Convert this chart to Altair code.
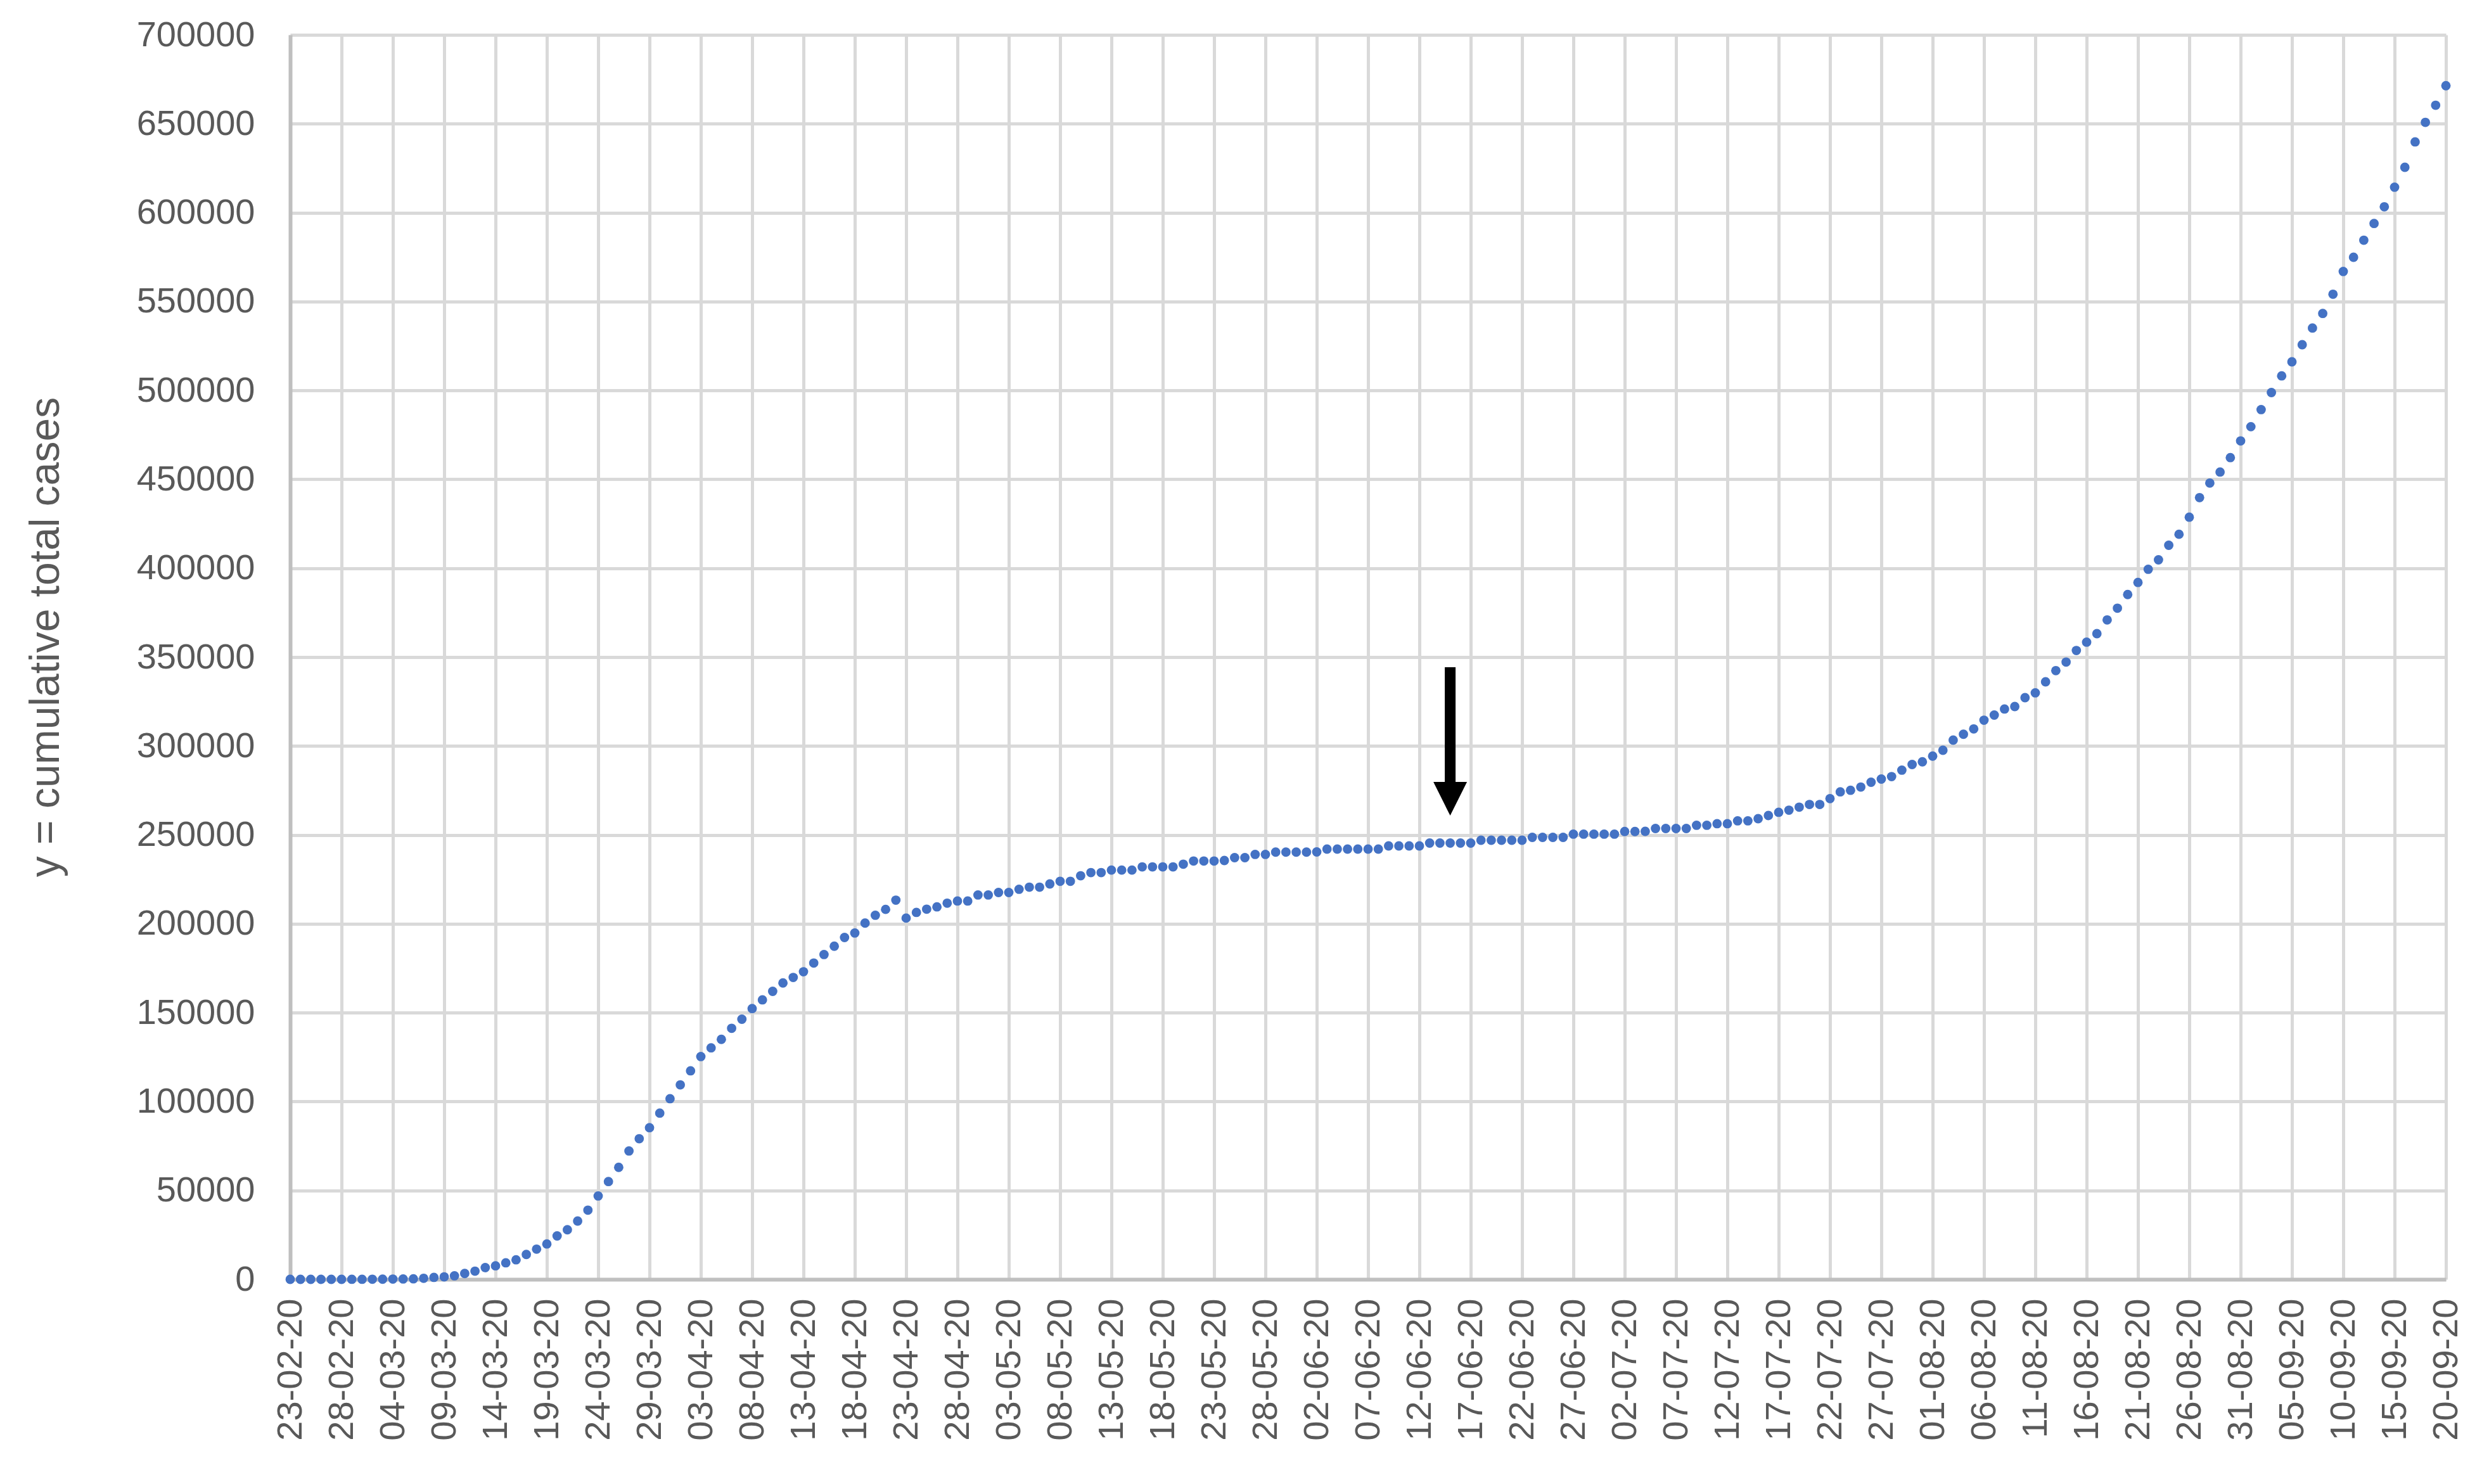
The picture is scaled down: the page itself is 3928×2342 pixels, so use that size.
import altair as alt
import pandas as pd

# ---- data ----
dates = pd.date_range("2020-02-23", "2020-09-20", freq="D").strftime("%d-%m-%y").tolist()
tick_labels = dates[::5]
y_ticks = list(range(0, 700001, 50000))

cases = [
    0, 0, 0, 0, 0, 10, 20, 30, 50, 80,                                   # 0-9
    150, 200, 300, 600, 1100, 1400, 2000, 3300, 4600, 6600,              # 10-19
    7600, 9300, 11000, 14000, 17000, 19900, 24400, 27900, 32800, 38900,  # 20-29
    46900, 55000, 63000, 72200, 79100, 85300, 93500, 101600, 109400, 117300,  # 30-39
    125300, 130200, 135000, 141200, 146300, 152300, 157200, 162000, 166700, 169800,  # 40-49
    173000, 177900, 182700, 187400, 192300, 194800, 200400, 204800, 208100, 213300,  # 50-59
    203200, 206400, 208200, 209500, 211600, 212800, 212800, 216200, 216200, 217600,  # 60-69
    217600, 219400, 220600, 220600, 222400, 223900, 223900, 227000, 228800, 228800,  # 70-79
    230200, 230200, 230200, 232000, 232000, 232000, 232000, 233500, 235300, 235300,  # 80-89
    235300, 235600, 237200, 237200, 239000, 239000, 240300, 240300, 240300, 240300,  # 90-99
    240400, 242000, 242000, 242000, 242000, 242000, 242000, 243800, 243800, 243800,  # 100-109
    243800, 245400, 245400, 245400, 245400, 245400, 247000, 247000, 247000, 247000,  # 110-119
    247000, 248600, 248600, 248600, 248600, 250400, 250400, 250400, 250400, 250400,  # 120-129
    251900, 251900, 252000, 253600, 253600, 253600, 253600, 255400, 255400, 256300,  # 130-139
    256300, 257900, 257900, 259100, 260900, 262700, 263900, 265600, 267100, 267100,  # 140-149
    270400, 274200, 275100, 276900, 279600, 281400, 282800, 286400, 289600, 291100,  # 150-159
    294300, 297600, 303300, 306600, 309600, 314500, 317400, 320800, 322200, 327200,  # 160-169
    329900, 336100, 342400, 347200, 353700, 358400, 363200, 370900, 377500, 385200,  # 170-179
    392000, 399400, 404700, 412900, 419100, 428700, 439700, 447900, 454100, 462200,  # 180-189
    471600, 479600, 489200, 498800, 508200, 516100, 525700, 535100, 543300, 554100,  # 190-199
    566900, 574900, 584500, 593900, 603300, 614300, 625500, 639800, 650800, 660400,  # 200-209
    671400,                                                              # 210
]
assert len(cases) == len(dates) == 211

# arrow annotation (data coordinates)
arrow_date = "15-06-20"
arrow_top = 344300
arrow_shaft_end = 276000
arrow_head_center = 270300

df = pd.DataFrame({"date": dates, "cases": cases})
arrow_df = pd.DataFrame({
    "date": [arrow_date],
    "top": [arrow_top],
    "base": [arrow_shaft_end],
    "head": [arrow_head_center],
})

# ---- styling ----
FONT = "Liberation Sans"
TEXT_COLOR = "#595959"
GRID = "#d9d9d9"
DOMAIN = "#bfbfbf"
BLUE = "#4472C4"
Y_TITLE = "y = cumulative total cases"

x_axis = alt.Axis(
    values=tick_labels, labelAngle=-90, labelFontSize=56, labelFont=FONT,
    labelColor=TEXT_COLOR, labelPadding=30, ticks=False, grid=True,
    gridColor=GRID, gridWidth=5, domainColor=DOMAIN, domainWidth=6,
    labelOverlap=False, labelBound=False, labelFlush=False, labelLimit=1000,
)
y_axis = alt.Axis(
    values=y_ticks, format="d", labelFontSize=56, labelFont=FONT,
    labelColor=TEXT_COLOR, labelPadding=56, ticks=False, grid=True,
    gridColor=GRID, gridWidth=5, domainColor=DOMAIN, domainWidth=6,
    labelOverlap=False, labelFlush=False, labelLimit=1000,
    titleFont=FONT, titleFontSize=66, titleFontWeight="normal",
    titleColor=TEXT_COLOR, titleX=-352, titleY=950, titleAngle=-90,
    titleAlign="center", titleBaseline="bottom", titleLimit=2000,
)

x_scale = alt.Scale(type="point", domain=dates, padding=0)
y_scale = alt.Scale(domain=[0, 700000], nice=False, zero=True)


def xenc():
    return alt.X("date:O", scale=x_scale, axis=x_axis, title=None, sort=dates)


def yenc(field):
    return alt.Y(field, type="quantitative", scale=y_scale, axis=y_axis, title=Y_TITLE)


points = alt.Chart(df).mark_circle(size=220, color=BLUE, opacity=1).encode(
    x=xenc(), y=yenc("cases")
)

shaft = alt.Chart(arrow_df).mark_rule(color="black", strokeWidth=17).encode(
    x=xenc(), y=yenc("top"), y2="base:Q"
)

head = alt.Chart(arrow_df).mark_point(
    shape="M-1,-1L1,-1L0,1Z", filled=True, size=2809, color="black",
    opacity=1, strokeWidth=0,
).encode(x=xenc(), y=yenc("head"))

chart = alt.layer(points, shaft, head).properties(
    width=3402,
    height=1964,
    autosize=alt.AutoSizeParams(type="none"),
    padding={"left": 450, "top": 47, "right": 60, "bottom": 300},
    background="white",
).configure_view(strokeWidth=0)

chart.save("out.html", embed_options={"renderer": "svg", "actions": False})
